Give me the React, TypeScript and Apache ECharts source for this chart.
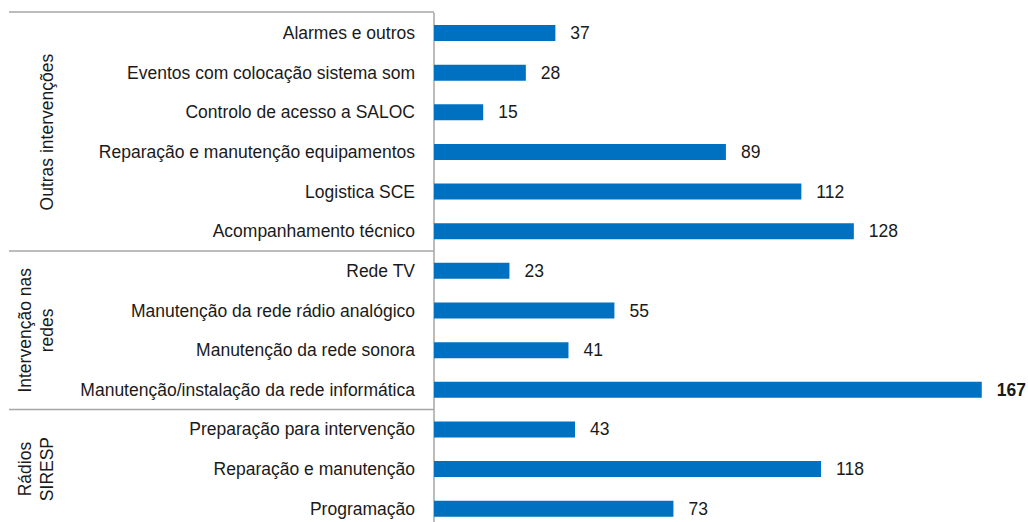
import React, { useEffect, useRef } from "react";
import * as echarts from "echarts";

const categories = [
  "Alarmes e outros",
  "Eventos com colocação sistema som",
  "Controlo de acesso a SALOC",
  "Reparação e manutenção equipamentos",
  "Logistica SCE",
  "Acompanhamento técnico",
  "Rede TV",
  "Manutenção da rede rádio analógico",
  "Manutenção da rede sonora",
  "Manutenção/instalação da rede informática",
  "Preparação para intervenção",
  "Reparação e manutenção",
  "Programação",
];
const values = [37, 28, 15, 89, 112, 128, 23, 55, 41, 167, 43, 118, 73];
const groupNames = ["Outras intervenções", "Intervenção nas\nredes", "Rádios\nSIRESP"];
const groupSizes = [6, 4, 3];

const FONT = "'Liberation Sans', Arial, sans-serif";

export default function App() {
  const ref = useRef<HTMLDivElement>(null);
  useEffect(() => {
    if (!ref.current) return;
    const chart = echarts.init(ref.current, null, { renderer: "svg" });
    const gridTop = 13.2;
    const gridLeft = 434;
    const band = 39.64;
    const gridHeight = band * categories.length;
    const maxVal = Math.max(...values);

    const graphics: any[] = [];
    let start = 0;
    const lineStyle = { stroke: "#a6a6a6", lineWidth: 1.5 };
    graphics.push({
      type: "line",
      shape: { x1: 9, y1: 12, x2: gridLeft, y2: 12 },
      style: lineStyle,
    });
    groupSizes.forEach((n, i) => {
      const y0 = gridTop + start * band;
      const y1 = gridTop + (start + n) * band;
      const multi = groupNames[i].includes("\n");
      graphics.push({
        type: "text",
        x: multi ? 36 : 47,
        y: (y0 + y1) / 2,
        rotation: Math.PI / 2,
        style: {
          text: groupNames[i],
          font: `17.5px ${FONT}`,
          fill: "#1a1a1a",
          align: "center",
          verticalAlign: "middle",
          lineHeight: 22,
        },
      });
      if (i < groupSizes.length - 1) {
        graphics.push({
          type: "line",
          shape: { x1: 9, y1: y1, x2: gridLeft, y2: y1 },
          style: lineStyle,
        });
      }
      start += n;
    });

    chart.setOption({
      animation: false,
      grid: { left: gridLeft, top: gridTop, height: gridHeight, right: 3.6 },
      xAxis: {
        type: "value",
        min: 0,
        max: 180,
        show: false,
      },
      yAxis: {
        type: "category",
        inverse: true,
        data: categories,
        axisLine: { show: true, lineStyle: { color: "#a6a6a6", width: 1.5 } },
        axisTick: { show: false },
        axisLabel: {
          margin: 19,
          fontSize: 17.5,
          fontFamily: FONT,
          color: "#1a1a1a",
        },
      },
      series: [
        {
          type: "bar",
          data: values.map((v) => ({
            value: v,
            label: v === maxVal ? { fontWeight: "bold" } : undefined,
          })),
          barWidth: 16,
          itemStyle: { color: "#0070C0" },
          label: {
            show: true,
            position: "right",
            distance: 15,
            fontSize: 17.5,
            fontFamily: FONT,
            color: "#1a1a1a",
          },
        },
      ],
      graphic: graphics,
    });
    return () => chart.dispose();
  }, []);
  return (
    <div
      ref={ref}
      style={{ position: "fixed", left: 0, top: 0, width: 1028, height: 540, background: "#fff" }}
    />
  );
}
